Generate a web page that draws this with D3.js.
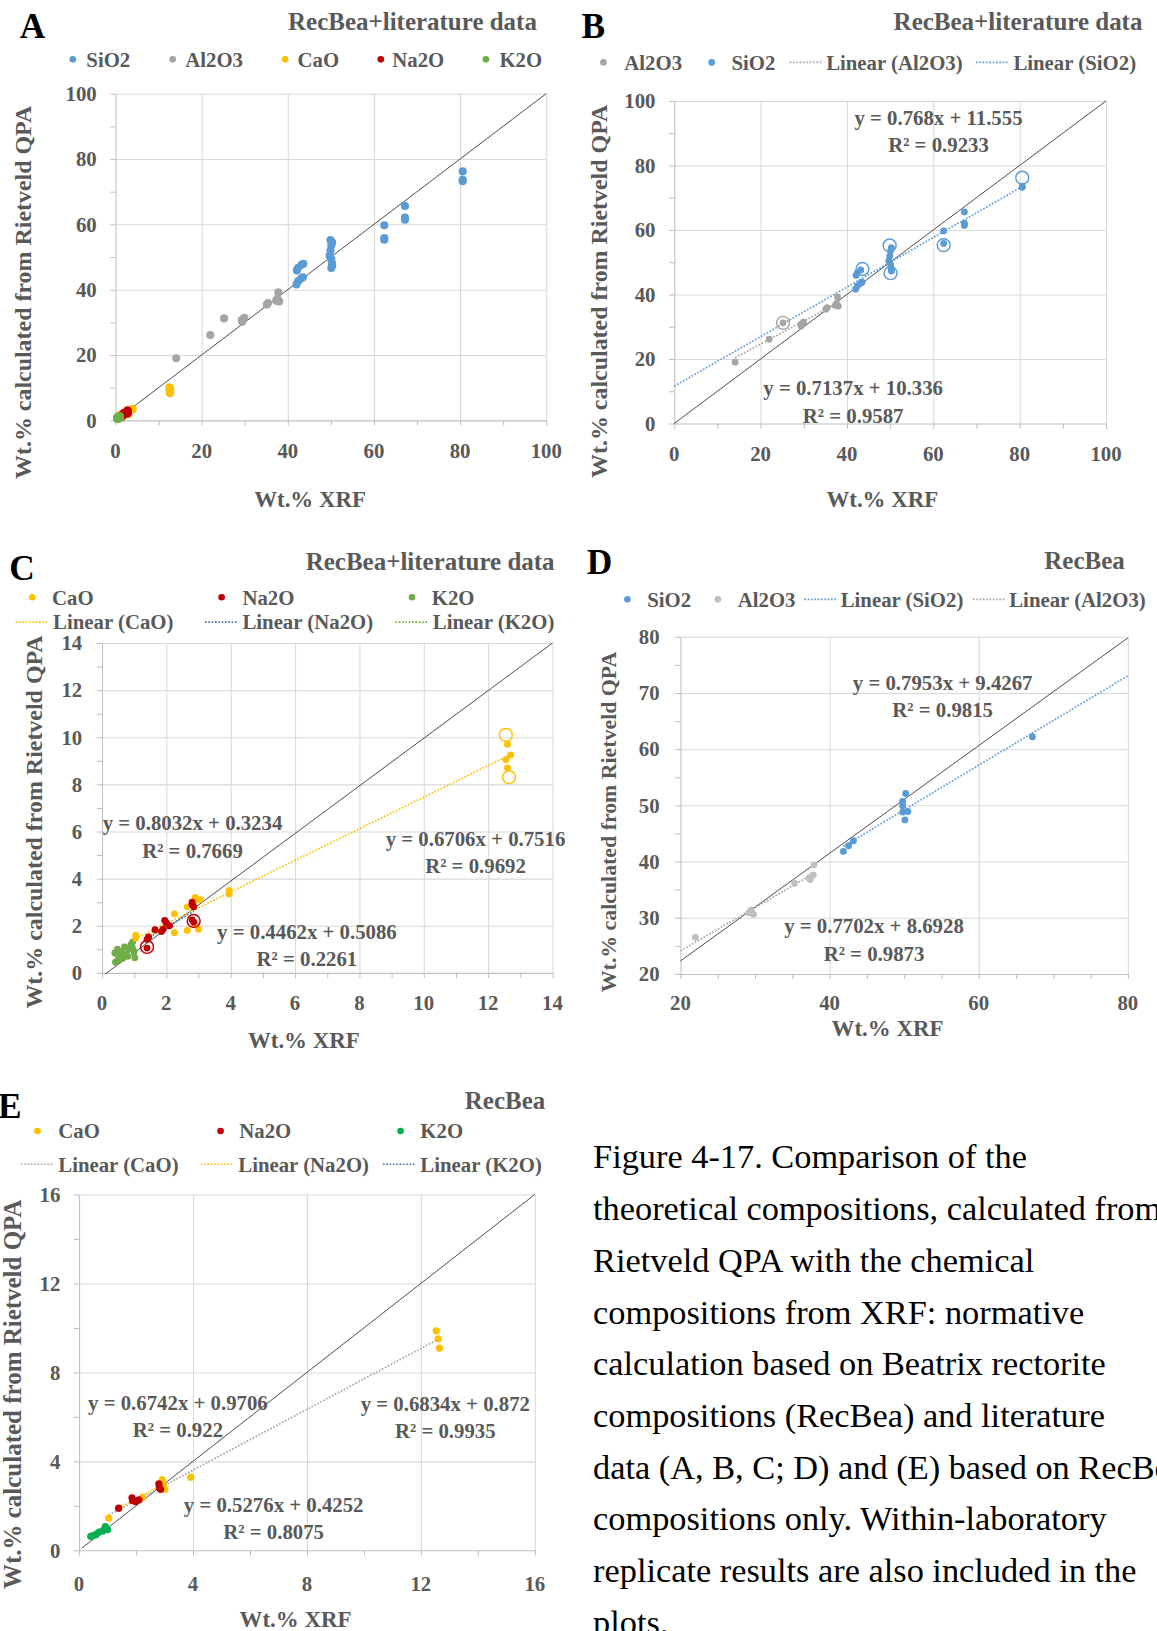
<!DOCTYPE html>
<html>
<head>
<meta charset="utf-8">
<script src="https://cdn.jsdelivr.net/npm/d3@7"></script>
<style>
  body { margin: 0; background: #fff; }
  svg { display: block; }
  text { font-family: "Liberation Serif", "Times New Roman", serif; }
</style>
</head>
<body>
<div id="fig"></div>
<script>
// ---- data: [Wt.% XRF, Wt.% from Rietveld QPA] ----

// RecBea + literature (panels A, B)
const sio2Lit = [[42.1,45.9],[42.4,46.7],[42.0,41.6],[42.4,42.6],[43.1,43.4],[43.5,43.8],[43.2,47.6],
  [50.3,54.5],[50.1,53.5],[49.9,51.9],[49.7,50.4],[50.1,49.3],[50.3,48.0],[50.3,47.3],
  [62.4,59.7],[62.4,55.8],[67.2,65.6],[67.2,62.1],[67.2,61.4],[80.6,73.6],[80.6,73.2]];
const sio2LitCircled = [[43.6,47.9],[49.9,55.2],[50.1,46.6],[62.4,55.3],[80.6,76.2]];
const al2o3Lit = [[14.1,19.0],[22.0,26.1],[25.2,31.2],[29.3,30.7],[29.9,31.4],[29.4,30.2],
  [35.4,35.9],[35.1,35.4],[37.8,39.2],[37.6,37.2],[38.0,36.4],[37.3,36.6]];
const al2o3LitCircled = [[25.2,31.2]];

// RecBea + literature (panels A, C)
const caoLit = [[12.6,9.7],[12.7,9.25],[12.55,9.05],[12.6,8.7],[3.95,3.5],[3.95,3.35],[2.9,3.2],
  [3.05,3.1],[2.85,3.0],[2.65,2.8],[2.25,2.5],[2.25,1.7],[2.65,1.8],[3.0,1.85],[2.9,2.05],
  [1.05,1.6],[1.05,1.47],[1.65,1.8],[2.0,2.05]];
const caoLitCircled = [[12.55,10.1],[12.65,8.3]];
const na2oLit = [[1.4,1.05],[1.4,1.42],[1.45,1.52],[1.65,1.83],[1.85,1.75],[1.9,1.85],[1.95,2.22],
  [2.0,2.12],[2.1,2.0],[2.8,3.0],[2.8,2.9],[2.85,2.8],[2.8,2.25],[2.85,2.15]];
const na2oLitCircled = [[1.4,1.1],[2.85,2.2]];
const k2oLit = [[0.42,0.45],[0.4,0.84],[0.48,1.0],[0.5,0.55],[0.55,0.75],[0.6,0.9],[0.65,0.62],
  [0.7,1.1],[0.75,0.8],[0.8,0.7],[0.85,1.0],[0.9,1.2],[0.95,1.3],[1.0,0.9],[1.02,0.64],
  [0.95,1.05],[0.6,0.65]];

// RecBea only (panels D, E)
const sio2Rec = [[41.85,41.8],[42.55,42.8],[43.2,43.7],[49.8,50.7],[49.8,49.9],[49.8,48.8],
  [50.1,47.4],[50.2,52.1],[50.5,48.9],[67.2,62.2]];
const al2o3Rec = [[22.0,26.5],[29.5,31.4],[29.8,30.6],[29.2,30.9],[35.3,36.1],[37.3,37.1],
  [37.4,36.8],[37.8,37.6],[37.9,39.4]];
const caoRec = [[12.54,9.87],[12.61,9.51],[12.65,9.09],[3.92,3.29],[2.92,3.18],[3.01,2.74],
  [2.96,2.94],[1.04,1.45],[2.23,2.39]];
const na2oRec = [[1.39,1.89],[1.86,2.36],[1.88,2.24],[1.98,2.19],[2.1,2.27],[2.8,2.99],[2.82,2.82],[2.86,2.74]];
const k2oRec = [[0.41,0.63],[0.5,0.66],[0.6,0.71],[0.7,0.82],[0.83,0.87],[0.92,1.06],[1.0,0.93]];

// linear fits as printed on the charts: [slope, intercept, R2, xFrom, xTo]
const fitB = { Al2O3: [0.7137, 10.336, 0.9587, 14.1, 38.0], SiO2: [0.768, 11.555, 0.9233, 0, 80.6] };
const fitC = { CaO: [0.6706, 0.7516, 0.9692, 1.05, 12.7], Na2O: [0.8032, 0.3234, 0.7669, 1.4, 2.85],
  K2O: [0.4462, 0.5086, 0.2261, 0.4, 1.02] };
const fitD = { SiO2: [0.7953, 9.4267, 0.9815, 41.85, 80], Al2O3: [0.7702, 8.6928, 0.9873, 20, 37.9] };
const fitE = { CaO: [0.6834, 0.872, 0.9935, 1.04, 12.65], Na2O: [0.6742, 0.9706, 0.922, 1.39, 2.86],
  K2O: [0.5276, 0.4252, 0.8075, 0.41, 1.0] };

// 1:1 reference lines
const refA = [[0, 0], [100, 100]];
const refC = [[0.1, -0.05], [14, 14]];
const refD = [[20, 22.3], [80, 79.8]];
const refE = [[0.1, 0.1], [16, 16]];

const caption = [
  "Figure 4-17. Comparison of the",
  "theoretical compositions, calculated from",
  "Rietveld QPA with the chemical",
  "compositions from XRF: normative",
  "calculation based on Beatrix rectorite",
  "compositions (RecBea) and literature",
  "data (A, B, C; D) and (E) based on RecBea",
  "compositions only. Within-laboratory",
  "replicate results are also included in the",
  "plots."
];

// ---- drawing ----
const COL = { SiO2: "#5B9BD5", Al2O3: "#A5A5A5", CaO: "#FFC000", Na2O: "#C00000",
  K2O: "#70AD47", K2Ogreen: "#00B050", blue: "#4472C4" };
const GREY = "#595959";
const YLAB = "Wt.% calculated from Rietveld QPA";

const S = 1157 / 1112; // layout below is measured on the 1112px-wide view
const svg = d3.select("#fig").append("svg").attr("width", 1157).attr("height", 1631);
const root = svg.append("g").attr("transform", `scale(${S})`);

function eqText(f) {
  return [`y = ${f[0]}x + ${f[1]}`, `R\u00b2 = ${f[2]}`];
}

function drawPanel(p) {
  const g = root.append("g");
  const x = d3.scaleLinear().domain(p.xd).range(p.xr);
  const y = d3.scaleLinear().domain(p.yd).range(p.yr);
  const h = p.yr[0] - p.yr[1], w = p.xr[1] - p.xr[0];
  const majX = d3.range(p.xd[0], p.xd[1] + 1e-6, p.xMaj);
  const majY = d3.range(p.yd[0], p.yd[1] + 1e-6, p.yMaj);
  const minX = d3.range(p.xd[0], p.xd[1] + 1e-6, p.xMin);
  const minY = d3.range(p.yd[0], p.yd[1] + 1e-6, p.yMin);

  // gridlines
  g.append("g").attr("transform", `translate(0,${p.yr[0]})`)
    .call(d3.axisBottom(x).tickValues(majX.slice(1)).tickSize(-h).tickFormat(""))
    .call(a => a.select(".domain").remove())
    .selectAll("line").attr("stroke", "#d9d9d9");
  g.append("g").attr("transform", `translate(${p.xr[0]},0)`)
    .call(d3.axisLeft(y).tickValues(majY.slice(1)).tickSize(-w).tickFormat(""))
    .call(a => a.select(".domain").remove())
    .selectAll("line").attr("stroke", "#d9d9d9");

  // axis lines with outside minor ticks
  g.append("g").attr("transform", `translate(0,${p.yr[0]})`)
    .call(d3.axisBottom(x).tickValues(minX).tickSize(5).tickSizeOuter(0).tickFormat(""))
    .call(a => { a.select(".domain").attr("stroke", "#bfbfbf"); a.selectAll("line").attr("stroke", "#bfbfbf"); });
  g.append("g").attr("transform", `translate(${p.xr[0]},0)`)
    .call(d3.axisLeft(y).tickValues(minY).tickSize(5).tickSizeOuter(0).tickFormat(""))
    .call(a => { a.select(".domain").attr("stroke", "#bfbfbf"); a.selectAll("line").attr("stroke", "#bfbfbf"); });

  // tick labels
  g.append("g").selectAll("text").data(majX).join("text")
    .attr("x", d => x(d)).attr("y", p.xLabY).attr("dy", "0.35em")
    .attr("text-anchor", "middle").attr("font-size", 20).attr("font-weight", "bold")
    .attr("fill", GREY).text(d => d);
  g.append("g").selectAll("text").data(majY).join("text")
    .attr("x", p.yLabX).attr("y", d => y(d)).attr("dy", "0.35em")
    .attr("text-anchor", "end").attr("font-size", 20).attr("font-weight", "bold")
    .attr("fill", GREY).text(d => d);

  // axis titles
  g.append("text").attr("transform", `translate(${p.yTitle[0]},${p.yTitle[1]}) rotate(-90)`)
    .attr("dy", "0.35em").attr("text-anchor", "middle")
    .attr("font-size", p.yTitleSize).attr("font-weight", "bold").attr("fill", GREY).text(YLAB);
  g.append("text").attr("x", p.xTitle[0]).attr("y", p.xTitle[1]).attr("dy", "0.35em")
    .attr("text-anchor", "middle").attr("font-size", 22).attr("font-weight", "bold")
    .attr("fill", GREY).text("Wt.% XRF");

  // panel letter and title
  g.append("text").attr("x", p.letter[0]).attr("y", p.letter[1]).attr("dy", "0.35em")
    .attr("font-size", 34).attr("font-weight", "bold").attr("fill", "#000").text(p.letter[2]);
  g.append("text").attr("x", p.title[0]).attr("y", p.title[1]).attr("dy", "0.35em")
    .attr("text-anchor", "end").attr("font-size", 24).attr("font-weight", "bold")
    .attr("fill", GREY).text(p.title[2]);

  // 1:1 line
  g.append("line")
    .attr("x1", x(p.ref[0][0])).attr("y1", y(p.ref[0][1]))
    .attr("x2", x(p.ref[1][0])).attr("y2", y(p.ref[1][1]))
    .attr("stroke", "#404040").attr("stroke-width", 0.9);

  // trend lines
  (p.trends || []).forEach(t => {
    const f = t.fit;
    g.append("line")
      .attr("x1", x(f[3])).attr("y1", y(f[0] * f[3] + f[1]))
      .attr("x2", x(f[4])).attr("y2", y(f[0] * f[4] + f[1]))
      .attr("stroke", t.color).attr("stroke-width", 1.6).attr("stroke-dasharray", "1.6,1.6");
  });

  // points
  p.series.forEach(s => {
    g.append("g").selectAll("circle").data(s.data).join("circle")
      .attr("cx", d => x(d[0])).attr("cy", d => y(d[1])).attr("r", p.r)
      .attr("fill", s.color);
  });
  (p.rings || []).forEach(s => {
    g.append("g").selectAll("circle").data(s.data).join("circle")
      .attr("cx", d => x(d[0])).attr("cy", d => y(d[1])).attr("r", 6.2)
      .attr("fill", "none").attr("stroke", s.color).attr("stroke-width", 1.4);
  });

  // equations
  (p.trends || []).forEach(t => {
    const lines = eqText(t.fit);
    lines.forEach((ln, i) => {
      g.append("text").attr("x", t.label[0]).attr("y", t.label[1] + i * 26.5).attr("dy", "0.35em")
        .attr("text-anchor", "middle").attr("font-size", 20).attr("font-weight", "bold")
        .attr("fill", GREY).text(ln);
    });
  });

  // legend
  p.legend.forEach(l => {
    if (l.kind === "dot") {
      g.append("circle").attr("cx", l.mx).attr("cy", l.y).attr("r", 3.2).attr("fill", l.color);
    } else {
      g.append("line").attr("x1", l.mx).attr("x2", l.mx + 31).attr("y1", l.y).attr("y2", l.y)
        .attr("stroke", l.color).attr("stroke-width", 1.6).attr("stroke-dasharray", "1.6,1.6");
    }
    g.append("text").attr("x", l.tx).attr("y", l.y).attr("dy", "0.35em")
      .attr("font-size", 20).attr("font-weight", "bold").attr("fill", GREY).text(l.text);
  });
}

// A
drawPanel({
  xd: [0, 100], yd: [0, 100], xr: [111, 525], yr: [404, 90], xMaj: 20, yMaj: 20, xMin: 10, yMin: 10,
  xLabY: 433, yLabX: 93, yTitle: [22, 281], yTitleSize: 23, xTitle: [298, 480],
  letter: [19, 25, "A"], title: [516, 20, "RecBea+literature data"], ref: refA, r: 3.9,
  series: [
    { data: sio2Lit.concat(sio2LitCircled), color: COL.SiO2 },
    { data: al2o3Lit, color: COL.Al2O3 },
    { data: caoLit.concat(caoLitCircled), color: COL.CaO },
    { data: na2oLit, color: COL.Na2O },
    { data: k2oLit, color: COL.K2O }
  ],
  legend: [
    { kind: "dot", color: COL.SiO2, mx: 70, tx: 83, y: 57, text: "SiO2" },
    { kind: "dot", color: COL.Al2O3, mx: 166, tx: 178, y: 57, text: "Al2O3" },
    { kind: "dot", color: COL.CaO, mx: 274, tx: 286, y: 57, text: "CaO" },
    { kind: "dot", color: COL.Na2O, mx: 366, tx: 377, y: 57, text: "Na2O" },
    { kind: "dot", color: COL.K2O, mx: 467, tx: 480, y: 57, text: "K2O" }
  ]
});

// B
drawPanel({
  xd: [0, 100], yd: [0, 100], xr: [648, 1063], yr: [407, 97], xMaj: 20, yMaj: 20, xMin: 10, yMin: 10,
  xLabY: 436, yLabX: 630, yTitle: [575, 280], yTitleSize: 23, xTitle: [848, 480],
  letter: [559, 25, "B"], title: [1098, 20, "RecBea+literature data"], ref: refA, r: 3.3,
  series: [
    { data: al2o3Lit, color: COL.Al2O3 },
    { data: sio2Lit, color: COL.SiO2 }
  ],
  rings: [
    { data: al2o3LitCircled, color: COL.Al2O3 },
    { data: sio2LitCircled, color: COL.SiO2 }
  ],
  trends: [
    { fit: fitB.Al2O3, color: COL.Al2O3, label: [820, 373] },
    { fit: fitB.SiO2, color: COL.SiO2, label: [902, 113] }
  ],
  legend: [
    { kind: "dot", color: COL.Al2O3, mx: 580, tx: 600, y: 60, text: "Al2O3" },
    { kind: "dot", color: COL.SiO2, mx: 684, tx: 703, y: 60, text: "SiO2" },
    { kind: "line", color: COL.Al2O3, mx: 759, tx: 794, y: 60, text: "Linear (Al2O3)" },
    { kind: "line", color: COL.SiO2, mx: 938, tx: 974, y: 60, text: "Linear (SiO2)" }
  ]
});

// C
drawPanel({
  xd: [0, 14], yd: [0, 14], xr: [98, 531], yr: [935, 618], xMaj: 2, yMaj: 2, xMin: 1, yMin: 1,
  xLabY: 964, yLabX: 79, yTitle: [32, 790], yTitleSize: 23, xTitle: [292, 1000],
  letter: [9, 546, "C"], title: [533, 539, "RecBea+literature data"], ref: refC, r: 3.3,
  series: [
    { data: k2oLit, color: COL.K2O },
    { data: caoLit, color: COL.CaO },
    { data: na2oLit, color: COL.Na2O }
  ],
  rings: [
    { data: caoLitCircled, color: COL.CaO },
    { data: na2oLitCircled, color: COL.Na2O }
  ],
  trends: [
    { fit: fitC.CaO, color: COL.CaO, label: [457, 806] },
    { fit: fitC.Na2O, color: COL.blue, label: [185, 791] },
    { fit: fitC.K2O, color: COL.K2O, label: [295, 895] }
  ],
  legend: [
    { kind: "dot", color: COL.CaO, mx: 31, tx: 50, y: 574, text: "CaO" },
    { kind: "dot", color: COL.Na2O, mx: 213, tx: 233, y: 574, text: "Na2O" },
    { kind: "dot", color: COL.K2O, mx: 396, tx: 415, y: 574, text: "K2O" },
    { kind: "line", color: COL.CaO, mx: 15, tx: 51, y: 598, text: "Linear (CaO)" },
    { kind: "line", color: COL.blue, mx: 197, tx: 233, y: 598, text: "Linear (Na2O)" },
    { kind: "line", color: COL.K2O, mx: 380, tx: 416, y: 598, text: "Linear (K2O)" }
  ]
});

// D
drawPanel({
  xd: [20, 80], yd: [20, 80], xr: [654, 1084], yr: [936, 612], xMaj: 20, yMaj: 10, xMin: 5, yMin: 5,
  xLabY: 964, yLabX: 634, yTitle: [585, 790], yTitleSize: 21, xTitle: [853, 988],
  letter: [564, 540, "D"], title: [1081, 538, "RecBea"], ref: refD, r: 3.3,
  series: [
    { data: sio2Rec, color: COL.SiO2 },
    { data: al2o3Rec, color: "#BFBFBF" }
  ],
  trends: [
    { fit: fitD.SiO2, color: COL.SiO2, label: [906, 656] },
    { fit: fitD.Al2O3, color: COL.Al2O3, label: [840, 890] }
  ],
  legend: [
    { kind: "dot", color: COL.SiO2, mx: 603, tx: 622, y: 576, text: "SiO2" },
    { kind: "dot", color: "#BFBFBF", mx: 690, tx: 709, y: 576, text: "Al2O3" },
    { kind: "line", color: COL.SiO2, mx: 773, tx: 808, y: 576, text: "Linear (SiO2)" },
    { kind: "line", color: COL.Al2O3, mx: 935, tx: 970, y: 576, text: "Linear (Al2O3)" }
  ]
});

// E
drawPanel({
  xd: [0, 16], yd: [0, 16], xr: [76, 514], yr: [1490, 1148], xMaj: 4, yMaj: 4, xMin: 2, yMin: 2,
  xLabY: 1522, yLabX: 58, yTitle: [12, 1340], yTitleSize: 24, xTitle: [284, 1556],
  letter: [-2, 1063, "E"], title: [524, 1057, "RecBea"], ref: refE, r: 3.5,
  series: [
    { data: caoRec, color: COL.CaO },
    { data: na2oRec, color: COL.Na2O },
    { data: k2oRec, color: COL.K2Ogreen }
  ],
  trends: [
    { fit: fitE.CaO, color: COL.Al2O3, label: [428, 1349] },
    { fit: fitE.Na2O, color: COL.CaO, label: [171, 1348] },
    { fit: fitE.K2O, color: COL.blue, label: [263, 1446] }
  ],
  legend: [
    { kind: "dot", color: COL.CaO, mx: 36, tx: 56, y: 1087, text: "CaO" },
    { kind: "dot", color: COL.Na2O, mx: 212, tx: 230, y: 1087, text: "Na2O" },
    { kind: "dot", color: COL.K2Ogreen, mx: 385, tx: 404, y: 1087, text: "K2O" },
    { kind: "line", color: COL.Al2O3, mx: 20, tx: 56, y: 1119, text: "Linear (CaO)" },
    { kind: "line", color: COL.CaO, mx: 193, tx: 229, y: 1119, text: "Linear (Na2O)" },
    { kind: "line", color: COL.blue, mx: 368, tx: 404, y: 1119, text: "Linear (K2O)" }
  ]
});

// caption
root.append("g").selectAll("text").data(caption).join("text")
  .attr("x", 570).attr("y", (d, i) => 1123 + i * 49.7)
  .attr("font-size", 33).attr("fill", "#000").text(d => d);
</script>
</body>
</html>
